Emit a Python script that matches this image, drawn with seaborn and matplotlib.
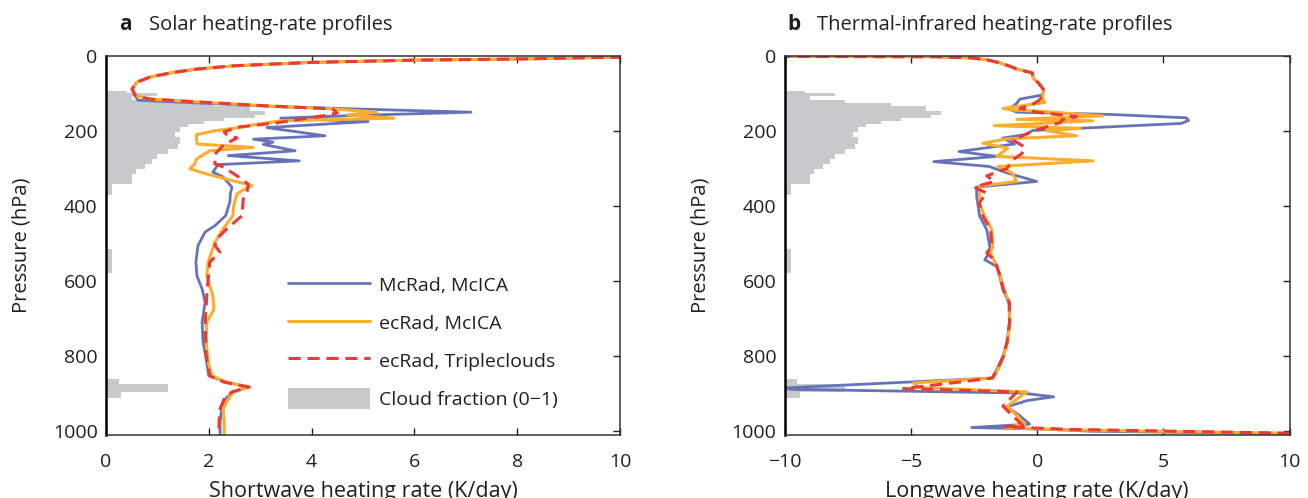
import matplotlib
matplotlib.use("Agg")
import matplotlib.pyplot as plt
from matplotlib.lines import Line2D
from matplotlib.patches import Patch
import pandas as pd
import seaborn as sns

# ---- cloud fraction (shared by both panels), step profile
cloud_p = [93, 100, 106, 117, 125, 134, 146, 157, 165, 174, 182, 190, 203, 216, 235, 248, 262, 275,
           288, 302, 315, 342, 370, 515, 580, 862, 875, 897, 912]
cloud_cf = [0.04, 0.10, 0.05, 0.12, 0.21, 0.28, 0.31, 0.29, 0.23, 0.19, 0.16, 0.145, 0.135, 0.145,
            0.14, 0.12, 0.10, 0.09, 0.075, 0.058, 0.05, 0.012, 0.0, 0.012, 0.0, 0.025, 0.12, 0.03, 0.0]

# ---- panel a: shortwave heating rate (K/day)
sw_top_p = [1, 3, 8, 11, 17, 26, 35, 44, 56, 70, 88, 106]
sw_top = [13, 10.0, 8.0, 6.0, 4.0, 2.5, 1.76, 1.3, 0.86, 0.6, 0.51, 0.57]

sw_mcrad_p = [118, 126, 136, 143, 150, 158, 166, 175, 191, 213, 222, 230, 236, 253, 266, 280, 290,
              310, 323, 350, 368, 390, 426, 453, 470, 506, 550, 587, 622, 657, 711, 764, 817, 854,
              871, 884, 897, 916, 942, 977, 1012]
sw_mcrad = [0.62, 1.9, 3.5, 5.3, 7.1, 5.0, 3.4, 5.1, 3.13, 4.26, 2.87, 3.25, 3.06, 3.68, 2.38, 3.76,
            2.18, 2.08, 2.28, 2.45, 2.42, 2.41, 2.33, 2.12, 1.93, 1.79, 1.75, 1.77, 1.87, 1.93, 1.87,
            1.89, 1.96, 2.0, 2.35, 2.74, 2.48, 2.32, 2.25, 2.22, 2.22]

sw_ecrad_p = [115, 123, 133, 141, 150, 157, 166, 173, 183, 191, 200, 210, 235, 244, 253, 275, 288,
              301, 315, 346, 352, 368, 403, 426, 462, 497, 550, 587, 640, 676, 711, 764, 817, 854,
              871, 884, 897, 916, 942, 977, 1012]
sw_ecrad = [0.86, 1.83, 3.1, 4.4, 5.27, 4.7, 5.6, 3.4, 2.9, 2.6, 2.1, 1.76, 1.77, 2.86, 2.02, 1.76,
            1.73, 1.63, 1.96, 2.84, 2.74, 2.55, 2.48, 2.47, 2.28, 2.12, 1.99, 1.96, 2.08, 2.1, 1.96,
            1.95, 1.99, 2.06, 2.35, 2.8, 2.48, 2.38, 2.28, 2.3, 2.3]

sw_tc_p = [115, 123, 133, 141, 152, 158, 179, 190, 203, 210, 219, 236, 262, 288, 296, 320, 342, 368,
           382, 426, 462, 489, 506, 524, 550, 622, 711, 800, 854, 871, 884, 897, 916, 942, 977, 1012]
sw_tc = [0.86, 1.83, 3.1, 4.4, 4.5, 4.3, 3.3, 2.55, 2.3, 2.35, 2.55, 2.3, 2.12, 2.12, 2.28, 2.55,
         2.77, 2.74, 2.67, 2.65, 2.35, 2.15, 2.12, 2.22, 2.02, 1.97, 1.93, 1.95, 2.02, 2.3, 2.78, 2.45,
         2.3, 2.22, 2.2, 2.2]

# ---- panel b: longwave heating rate (K/day)
lw_top_p = [0.5, 2, 5, 10, 18, 27, 35, 45, 60, 72, 90, 104]
lw_top = [-14, -4.0, -2.6, -2.0, -1.5, -1.1, -0.8, -0.2, -0.15, 0.05, 0.25, 0.22]

lw_mcrad_p = [115, 126, 142, 150, 156, 165, 172, 180, 189, 199, 210, 219, 235, 255, 268, 282, 295,
              312, 335, 350, 375, 392, 428, 464, 508, 526, 544, 562, 590, 624, 659, 713, 765, 802,
              837, 860, 886, 890, 900, 910, 920, 937, 960, 983, 992, 997, 1002, 1012]
lw_mcrad = [-0.69, -0.81, -1.1, -0.8, 2.9, 5.9, 6.0, 5.7, 2.9, -0.18, -0.5, -1.36, -0.9, -3.1, -1.6,
            -4.1, -1.9, -1.2, -0.02, -2.4, -2.4, -2.36, -2.28, -2.0, -1.88, -1.9, -2.08, -1.6, -1.48,
            -1.36, -1.12, -1.1, -1.2, -1.36, -1.6, -1.8, -9.9, -9.8, -0.6, 0.65, -0.4, -1.2, -0.7,
            -0.3, -2.6, 0.5, 2.2, 14]

lw_ecrad_p = [117, 124, 140, 144, 148, 160, 169, 173, 186, 193, 199, 213, 221, 233, 246, 268, 280,
              295, 312, 335, 347, 371, 392, 428, 464, 508, 526, 562, 590, 624, 659, 713, 765, 802,
              837, 860, 873, 885, 897, 936, 960, 983, 992, 998, 1012]
lw_ecrad = [0.22, 0.3, -1.36, -1.02, 0.22, 2.6, -0.8, 2.2, -1.7, 1.7, 0.37, 1.56, -1.2, -2.15, -1.17,
            -1.6, 2.2, -1.56, -1.0, -0.81, -2.28, -2.28, -2.3, -2.08, -1.8, -1.76, -1.85, -1.6,
            -1.45, -1.32, -1.1, -1.08, -1.18, -1.33, -1.55, -1.75, -4.9, -4.7, -0.42, -1.2, -0.8,
            -0.5, -1.3, 1.0, 14]

lw_tc_p = [117, 130, 140, 150, 162, 170, 178, 197, 224, 243, 260, 277, 300, 320, 335, 350, 366, 392,
           428, 464, 508, 526, 544, 562, 590, 624, 659, 713, 765, 802, 837, 860, 874, 888, 897, 935,
           987, 990, 997, 1012]
lw_tc = [0.1, -0.2, -0.69, 0.0, 1.56, 1.0, 0.9, -0.02, -0.97, -0.5, -0.6, -0.97, -1.2, -2.0, -1.7,
         -2.5, -2.0, -2.3, -2.15, -1.85, -1.8, -2.0, -1.7, -1.6, -1.46, -1.34, -1.1, -1.1, -1.2,
         -1.34, -1.58, -1.78, -3.5, -5.3, -0.8, -1.36, -0.57, -1.3, 1.3, 14]

labels = ["McRad, McICA", "ecRad, McICA", "ecRad, Tripleclouds", "Cloud fraction (0\u22121)"]
colors = ["#6673b9", "#fbae2d", "#ee3a35"]
widths = [2.0, 2.2, 2.2]
dash = (0, (4, 2.2))
gray = "#c8c9cb"
ink = "#231f20"


def frame(p, v):
    return pd.DataFrame({"pressure": p, "rate": v})


def draw_panel(ax, top_p, top, series, xlim, xticks, xlabel, xpos, letter, title):
    cax = ax.twiny()
    cax.fill_betweenx(cloud_p, 0, cloud_cf, step="post", color=gray, lw=0)
    cax.set_xlim(0, 1)
    cax.axis("off")
    ax.set_zorder(cax.get_zorder() + 1)
    ax.patch.set_visible(False)

    for (p, v), c, ls, w in zip(series, colors, ["-", "-", dash], widths):
        sns.lineplot(data=frame(top_p + p, top + v), x="rate", y="pressure", orient="y",
                     sort=False, estimator=None, ax=ax, color=c, lw=w, linestyle=ls)

    ax.set_xlim(*xlim)
    ax.set_ylim(1012, 0)
    cax.set_ylim(1012, 0)
    ax.set_xticks(xticks)
    ax.set_yticks([0, 200, 400, 600, 800, 1000])
    ax.tick_params(direction="in", length=5, width=1, top=True, right=True, labelsize=14,
                   colors=ink)
    ax.tick_params(axis="x", pad=13)
    ax.tick_params(axis="y", pad=6)
    for s in ax.spines.values():
        s.set_color("#333333")
        s.set_linewidth(1.1)
    ax.spines["left"].set_linewidth(1.8)
    ax.spines["left"].set_color("black")
    ax.set_xlabel(xlabel, fontsize=15.5, labelpad=7, color=ink)
    ax.set_ylabel("Pressure (hPa)", fontsize=14.5, labelpad=15, color=ink)
    ax.text(xpos, 1.083, letter, transform=ax.transAxes, fontsize=15, fontweight="bold",
            va="center", color=ink)
    ax.text(xpos + 0.058, 1.083, title, transform=ax.transAxes, fontsize=14.5,
            va="center", color=ink)


sns.set_theme(style="white")
plt.rcParams["font.family"] = ["Open Sans", "DejaVu Sans"]

fig = plt.figure(figsize=(13.08, 4.98), dpi=100)
ax_a = fig.add_axes([0.081, 0.1265, 0.393, 0.761])
ax_b = fig.add_axes([0.600, 0.1265, 0.386, 0.761])

draw_panel(ax_a, sw_top_p, sw_top,
           [(sw_mcrad_p, sw_mcrad), (sw_ecrad_p, sw_ecrad), (sw_tc_p, sw_tc)],
           (0, 10), [0, 2, 4, 6, 8, 10], "Shortwave heating rate (K/day)", 0.025,
           "a", "Solar heating-rate profiles")
draw_panel(ax_b, lw_top_p, lw_top,
           [(lw_mcrad_p, lw_mcrad), (lw_ecrad_p, lw_ecrad), (lw_tc_p, lw_tc)],
           (-10, 10), [-10, -5, 0, 5, 10], "Longwave heating rate (K/day)", 0.006,
           "b", "Thermal-infrared heating-rate profiles")

handles = [Line2D([], [], color=colors[0], lw=widths[0]),
           Line2D([], [], color=colors[1], lw=widths[1]),
           Line2D([], [], color=colors[2], lw=widths[2], linestyle=dash),
           Patch(facecolor=gray, edgecolor="none")]
ax_a.legend(handles, labels, loc="upper left", bbox_to_anchor=(0.32, 0.47), frameon=False,
            fontsize=14, handlelength=4.2, handleheight=1.3, labelspacing=0.85,
            handletextpad=0.5, labelcolor=ink)

fig.savefig("out.png", dpi=100)
